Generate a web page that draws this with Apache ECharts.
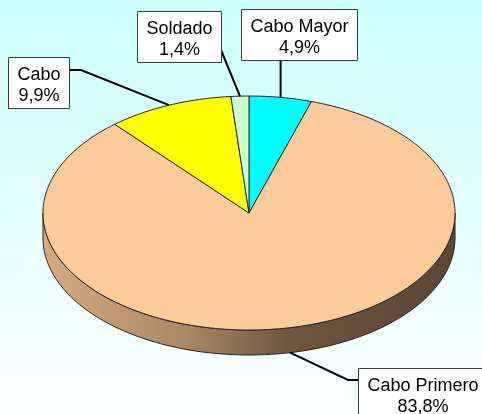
<!DOCTYPE html>
<html>
<head>
<meta charset="utf-8">
<script src="https://cdn.jsdelivr.net/npm/echarts@6/dist/echarts.min.js"></script>
<style>
html,body{margin:0;padding:0;}
#main{width:482px;height:414px;}
</style>
</head>
<body>
<div id="main"></div>
<script>
// ---- data ----
const categories = ['Cabo Mayor', 'Cabo Primero', 'Cabo', 'Soldado'];
const values = [4.9, 83.8, 9.9, 1.4];
const valueLabels = ['4,9%', '83,8%', '9,9%', '1,4%'];

// ---- styles / layout ----
const sliceColors = ['#00ffff', '#ffcc99', '#ffff00', '#ccffcc'];
const sideGradientStops = [
  { offset: 0, color: '#d8ab7f' },
  { offset: 0.35, color: '#a98866' },
  { offset: 0.6, color: '#6c5641' },
  { offset: 1, color: '#5b4737' }
];
const pieLayout = { cx: 249, cy: 213, rx: 206, ry: 117, depth: 25 };
// label box placement: side = which edge attaches to the leader
const labelLayout = [
  { side: 'bottom', left: 241, top: 9 },
  { side: 'left', left: 358, top: 368, elbow: 10, attachDy: 12 },
  { side: 'right', right: 69, top: 57, elbow: 12, attachDy: 13 },
  { side: 'right', right: 221, top: 11, attachDy: 39 }
];
const FONT = '18px "Liberation Sans", Arial, sans-serif';
const LINE_H = 21;
const PAD_X = 9, PAD_TOP = 5, PAD_BOTTOM = 4, TEXT_SHIFT = 2.5;

const measureCtx = document.createElement('canvas').getContext('2d');
measureCtx.font = FONT;
function textW(s) { return measureCtx.measureText(s).width; }

const total = values.reduce((a, b) => a + b, 0);
const starts = [];
let acc = 0;
values.forEach(v => { starts.push(acc); acc += v; });

function ang(frac) { return -Math.PI / 2 + frac * 2 * Math.PI; }
function pt(t, dy) {
  return [pieLayout.cx + pieLayout.rx * Math.cos(t), pieLayout.cy + pieLayout.ry * Math.sin(t) + (dy || 0)];
}

function renderItem(params, api) {
  const i = params.dataIndex;
  const v = api.value(1);
  const s = api.value(2);
  const a1 = ang(s / total), a2 = ang((s + v) / total);
  const children = [];
  const N = 120;

  // side (front half only)
  const ranges = [];
  for (let k = -1; k <= 1; k++) {
    const lo = Math.max(a1, k * 2 * Math.PI), hi = Math.min(a2, k * 2 * Math.PI + Math.PI);
    if (hi > lo) ranges.push([lo, hi]);
  }
  ranges.forEach(r => {
    const top = [], bot = [];
    for (let j = 0; j <= N; j++) {
      const t = r[0] + (r[1] - r[0]) * j / N;
      top.push(pt(t));
      bot.push(pt(t, pieLayout.depth));
    }
    children.push({
      type: 'polygon',
      z2: 1,
      shape: { points: top.concat(bot.reverse()) },
      style: {
        fill: new echarts.graphic.LinearGradient(0, 0, 1, 0, sideGradientStops),
        stroke: '#2a2218', lineWidth: 1
      }
    });
  });

  // top face
  const face = [[pieLayout.cx, pieLayout.cy]];
  const n = Math.max(4, Math.ceil(N * (a2 - a1) / Math.PI));
  for (let j = 0; j <= n; j++) face.push(pt(a1 + (a2 - a1) * j / n));
  children.push({
    type: 'polygon',
    z2: 5,
    shape: { points: face },
    style: { fill: sliceColors[i], stroke: '#262626', lineWidth: 1, lineJoin: 'round' }
  });

  // label
  const mid = (a1 + a2) / 2;
  const inFront = Math.sin(mid) > 0;
  const anchor = pt(mid, inFront ? pieLayout.depth : 0);
  const lines = [categories[i], valueLabels[i]];
  const w = Math.max(...lines.map(textW)) + 2 * PAD_X;
  const h = PAD_TOP + PAD_BOTTOM + 2 * LINE_H;
  const L = labelLayout[i];
  const left = L.left !== undefined ? L.left : L.right - w;
  const topY = L.top;
  let linePts;
  if (L.side === 'bottom') {
    linePts = [[anchor[0], topY + h], anchor];
  } else if (L.side === 'right') {
    const sx = left + w, sy = topY + L.attachDy;
    linePts = L.elbow ? [[sx, sy], [sx + L.elbow, sy], anchor] : [[sx, sy], anchor];
  } else {
    const sx = left, sy = topY + L.attachDy;
    linePts = L.elbow ? [[sx, sy], [sx - L.elbow, sy], anchor] : [[sx, sy], anchor];
  }
  children.push({
    type: 'polyline', z2: 8,
    shape: { points: linePts },
    style: { stroke: '#000', lineWidth: 2, fill: null }
  });
  children.push({
    type: 'rect', z2: 9,
    shape: { x: Math.round(left) + 0.5, y: topY + 0.5, width: Math.round(w), height: h },
    style: { fill: '#ffffff', stroke: '#3a3a3a', lineWidth: 1 }
  });
  children.push({
    type: 'text', z2: 10,
    x: Math.round(left) + Math.round(w) / 2 + 0.5,
    y: topY + PAD_TOP + TEXT_SHIFT,
    style: {
      text: lines.join('\n'), font: FONT, fill: '#000',
      align: 'center', verticalAlign: 'top', lineHeight: LINE_H
    }
  });
  return { type: 'group', children };
}

const chart = echarts.init(document.getElementById('main'), null, { renderer: 'canvas' });
chart.setOption({
  animation: false,
  graphic: [{
    type: 'rect', z: -10, silent: true,
    shape: { x: 0, y: 0, width: 482, height: 414 },
    style: { fill: new echarts.graphic.LinearGradient(0, 0, 0, 1, [
      { offset: 0, color: '#ccffff' }, { offset: 1, color: '#fbffff' }]) }
  }],
  series: [{
    type: 'custom',
    coordinateSystem: 'none',
    renderItem: renderItem,
    data: categories.map((c, i) => [i, values[i], starts[i]])
  }]
});
</script>
</body>
</html>
